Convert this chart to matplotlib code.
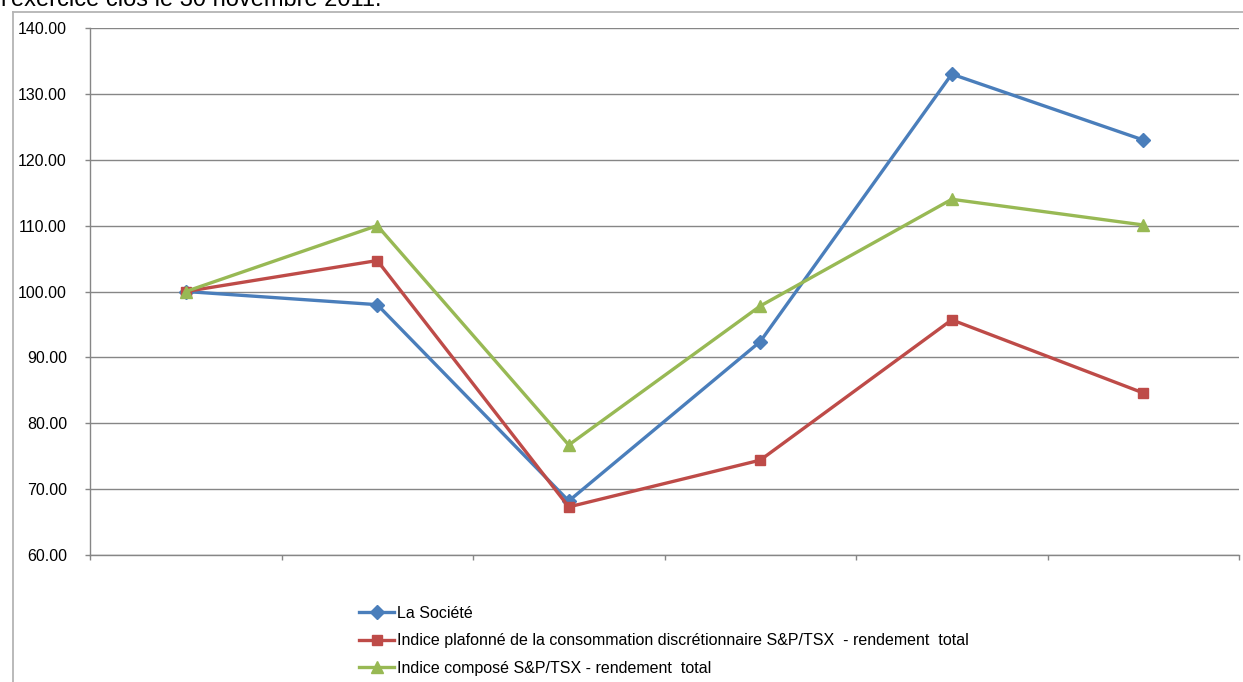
import matplotlib
matplotlib.use("Agg")
import matplotlib.pyplot as plt
from matplotlib.lines import Line2D

plt.rcParams['font.family'] = ['Liberation Sans', 'DejaVu Sans']

categories = ["2006", "2007", "2008", "2009", "2010", "2011"]
societe = [100.0, 98.0, 68.2, 92.4, 133.0, 123.0]
plafonne = [100.0, 104.7, 67.3, 74.4, 95.7, 84.6]
compose = [100.0, 110.0, 76.7, 97.8, 114.0, 110.1]
labels = ["La Société",
          "Indice plafonné de la consommation discrétionnaire S&P/TSX  - rendement  total",
          "Indice composé S&P/TSX - rendement  total"]
yticks = [60, 70, 80, 90, 100, 110, 120, 130, 140]
title = "l'exercice clos le 30 novembre 2011."

W, H = 1243, 682
fig = plt.figure(figsize=(W / 100, H / 100), dpi=100)

# outer chart border (partially visible)
fig.add_artist(Line2D([13 / W, 13 / W], [0, 1 - 12 / H], transform=fig.transFigure,
                      color='#b4b4b4', lw=1.3))
fig.add_artist(Line2D([13 / W, 1], [1 - 12 / H, 1 - 12 / H], transform=fig.transFigure,
                      color='#b4b4b4', lw=1.3))

fig.text(1 / W, 1 - 6 / H, title, fontsize=17, ha='left', va='baseline', color='black')

ax = fig.add_axes([90 / W, 1 - 555 / H, (1239 - 90) / W, (555 - 28) / H])
x = list(range(len(categories)))
blue, red, green = '#4a7ebb', '#be4b48', '#98b954'
ax.plot(x, societe, color=blue, lw=2.4, marker='D', ms=7, label=labels[0], zorder=3)
ax.plot(x, plafonne, color=red, lw=2.4, marker='s', ms=7.5, label=labels[1], zorder=3)
ax.plot(x, compose, color=green, lw=2.4, marker='^', ms=8.5, label=labels[2], zorder=3)

ax.set_xlim(-0.5, len(categories) - 0.5)
ax.set_ylim(60, 140)
ax.set_yticks(yticks)
ax.set_yticklabels([f"{v:.2f}" for v in yticks], fontsize=11.5)
ax.set_xticks([i - 0.5 for i in range(len(categories) + 1)])
ax.set_xticklabels([])
ax.tick_params(axis='y', length=3.6, width=1, color='#868686', pad=13)
ax.tick_params(axis='x', length=3.6, width=1, color='#868686')
ax.yaxis.grid(True, color='#868686', lw=1)
ax.set_axisbelow(True)
for s in ['top', 'right']:
    ax.spines[s].set_visible(False)
for s in ['left', 'bottom']:
    ax.spines[s].set_color('#868686')
    ax.spines[s].set_linewidth(1)

handles, labs = ax.get_legend_handles_labels()
fig.legend(handles, labs, loc='upper left', bbox_to_anchor=(359 / W, 1 - 606 / H),
           frameon=False, fontsize=11.5, handlelength=2.2, handletextpad=0.2,
           labelspacing=0.78, borderpad=0, borderaxespad=0)

fig.savefig("out.png", dpi=100)
